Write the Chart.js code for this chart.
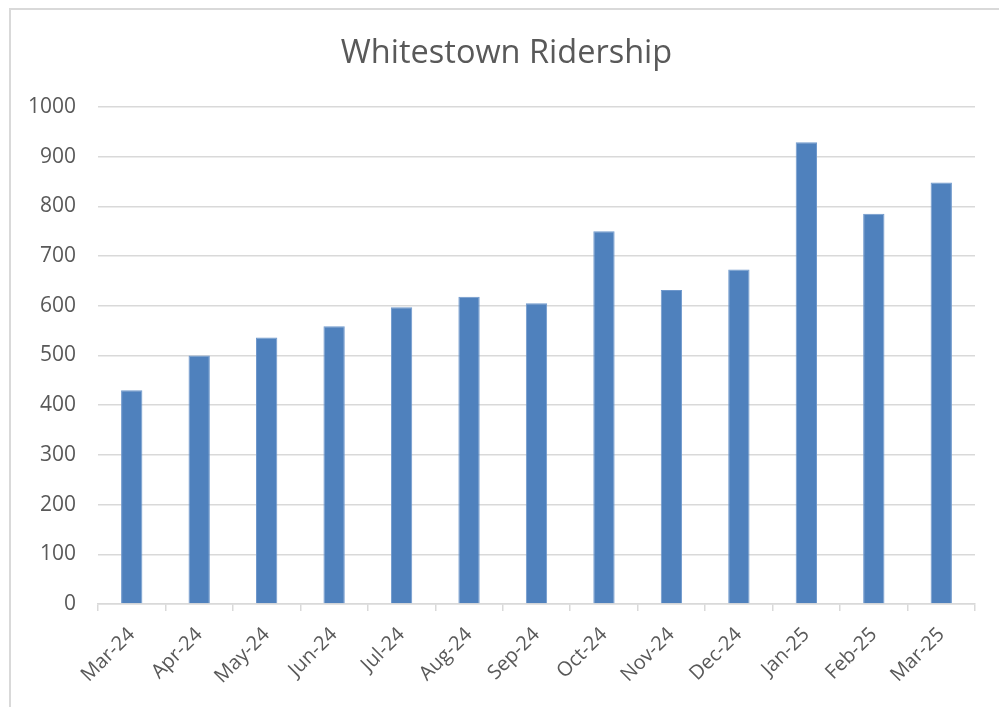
<!DOCTYPE html>
<html>
<head>
<meta charset="utf-8">
<script src="https://cdn.jsdelivr.net/npm/chart.js@4.4.1/dist/chart.umd.min.js"></script>
<style>
    body { margin: 0; overflow: hidden; background: #fff; }
    #wrap { position: relative; width: 999px; height: 707px; }
    #frame {
        position: absolute; left: 9px; top: 8px; width: 1100px; height: 800px;
        border: 2px solid #d9d9d9; pointer-events: none;
    }
</style>
</head>
<body>
<div id="wrap">
    <canvas id="ridership" width="999" height="707"></canvas>
    <div id="frame"></div>
</div>
<script>
    // monthly riders
    const months = ["Mar-24", "Apr-24", "May-24", "Jun-24", "Jul-24", "Aug-24", "Sep-24",
        "Oct-24", "Nov-24", "Dec-24", "Jan-25", "Feb-25", "Mar-25"];
    const riders = [430, 500, 536, 559, 597, 618, 605, 750, 632, 673, 929, 785, 848];
    const yMin = 0, yMax = 1000, yStep = 100;

    const textColor = "#595959";
    const gridColor = "#d9d9d9";
    const font = "'Open Sans', 'Noto Sans', sans-serif";

    // nudge the title box to the right a little (centred on the frame, not the padded area)
    const titleShift = {
        id: "titleShift",
        afterLayout(chart) {
            if (chart.titleBlock) {
                chart.titleBlock.left += 14;
                chart.titleBlock.right += 14;
            }
        }
    };

    const ctx = document.getElementById("ridership").getContext("2d");
    new Chart(ctx, {
        type: "bar",
        data: {
            labels: months,
            datasets: [{
                label: "Riders",
                data: riders,
                backgroundColor: "#4f81bd",
                borderColor: "#6f98cc",
                borderWidth: {left: 1, right: 1, top: 1, bottom: 0},
                categoryPercentage: 1,
                barPercentage: 0.316
            }]
        },
        plugins: [titleShift],
        options: {
            responsive: false,
            animation: false,
            layout: {padding: {left: 10, right: 24, top: 0, bottom: 0}},
            plugins: {
                legend: {display: false},
                tooltip: {enabled: false},
                title: {
                    display: true,
                    text: "Whitestown Ridership",
                    color: textColor,
                    font: {family: font, size: 32.5, weight: "normal", lineHeight: 1.2},
                    padding: {top: 34, bottom: 34}
                }
            },
            scales: {
                x: {
                    grid: {
                        offset: true,
                        drawOnChartArea: false,
                        drawTicks: true,
                        tickLength: 7,
                        color: gridColor,
                        lineWidth: 1.5
                    },
                    border: {color: gridColor, width: 1.5},
                    ticks: {
                        color: textColor,
                        font: {family: font, size: 20},
                        minRotation: 45,
                        maxRotation: 45,
                        padding: 12
                    },
                    afterFit: function (scale) { scale.height = 103; }
                },
                y: {
                    min: yMin,
                    max: yMax,
                    grid: {color: gridColor, lineWidth: 1.5, drawTicks: false},
                    border: {display: false},
                    ticks: {
                        stepSize: yStep,
                        color: textColor,
                        font: {family: font, size: 21},
                        padding: 22,
                        callback: function (value) { return String(value); }
                    },
                    afterFit: function (scale) { scale.width = 88; }
                }
            }
        }
    });
</script>
</body>
</html>
